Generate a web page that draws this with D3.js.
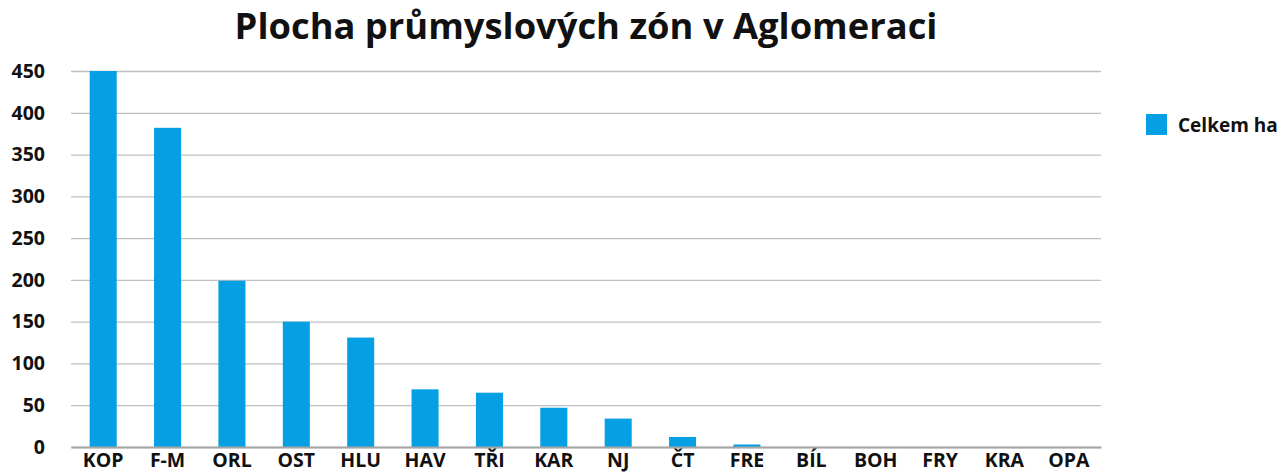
<!DOCTYPE html>
<html>
<head>
<meta charset="utf-8">
<script src="https://cdn.jsdelivr.net/npm/d3@7"></script>
<style>
  body { margin: 0; background: #fff; }
  svg { font-family: "Open Sans", sans-serif; font-weight: 700; }
</style>
</head>
<body>
<div id="chart"></div>
<script>
const categories = ["KOP", "F-M", "ORL", "OST", "HLU", "HAV", "TŘI", "KAR", "NJ", "ČT", "FRE", "BÍL", "BOH", "FRY", "KRA", "OPA"];
const values = [450, 382, 199, 150, 131, 69, 65, 47, 34, 12, 3, 0, 0, 0, 0, 0];
const yTicks = [0, 50, 100, 150, 200, 250, 300, 350, 400, 450];
const seriesName = "Celkem ha";
const title = "Plocha průmyslových zón v Aglomeraci";

const W = 1283, H = 472;
const margin = { top: 71, right: 182, bottom: 25, left: 71 };
const width = W - margin.left - margin.right;
const height = H - margin.top - margin.bottom;
const barColor = "#05a0e3";

const svg = d3.select("#chart")
  .append("svg")
  .attr("width", W)
  .attr("height", H);

// title, scaled to the reference width
const titleEl = svg.append("text")
  .attr("x", 586)
  .attr("y", 39)
  .attr("text-anchor", "middle")
  .attr("font-size", 34)
  .attr("fill", "#111")
  .text(title);
const tw = titleEl.node().getComputedTextLength();
titleEl.attr("font-size", 34 * 703 / tw);

const g = svg.append("g")
  .attr("transform", "translate(" + margin.left + "," + margin.top + ")");

const x = d3.scaleBand()
  .domain(categories)
  .range([0, width])
  .paddingInner(0.58)
  .paddingOuter(0.29);

const y = d3.scaleLinear()
  .domain([0, 450])
  .range([height, 0]);

// gridlines
const yAxis = d3.axisLeft(y)
  .tickValues(yTicks)
  .tickSize(-width)
  .tickPadding(26);
const yAxisEl = g.append("g").call(yAxis);
yAxisEl.select(".domain").remove();
yAxisEl.selectAll("line")
  .attr("stroke", "#bfbfbf")
  .attr("stroke-width", 1.3);
yAxisEl.selectAll("text")
  .attr("font-size", 19.5)
  .attr("fill", "#111")
  .attr("font-family", "Open Sans, sans-serif")
  .attr("font-weight", 700);

// bars
g.selectAll(".bar")
  .data(categories.map((c, i) => [c, values[i]]))
  .join("rect")
  .attr("class", "bar")
  .attr("x", d => x(d[0]))
  .attr("y", d => y(d[1]))
  .attr("width", x.bandwidth())
  .attr("height", d => y(0) - y(d[1]))
  .attr("fill", barColor);

// x axis
const xAxis = d3.axisBottom(x)
  .tickSize(0)
  .tickPadding(6);
const xAxisEl = g.append("g")
  .attr("transform", "translate(0," + height + ")")
  .call(xAxis);
xAxisEl.select(".domain")
  .attr("stroke", "#a6a6a6")
  .attr("stroke-width", 2.2);
xAxisEl.selectAll("text")
  .attr("font-size", 19.5)
  .attr("fill", "#111")
  .attr("font-family", "Open Sans, sans-serif")
  .attr("font-weight", 700);

// legend
const legend = svg.append("g").attr("transform", "translate(1146,114)");
legend.append("rect")
  .attr("width", 21)
  .attr("height", 21)
  .attr("fill", barColor);
legend.append("text")
  .attr("x", 32)
  .attr("y", 17.5)
  .attr("font-size", 19)
  .attr("fill", "#111")
  .text(seriesName);
</script>
</body>
</html>
